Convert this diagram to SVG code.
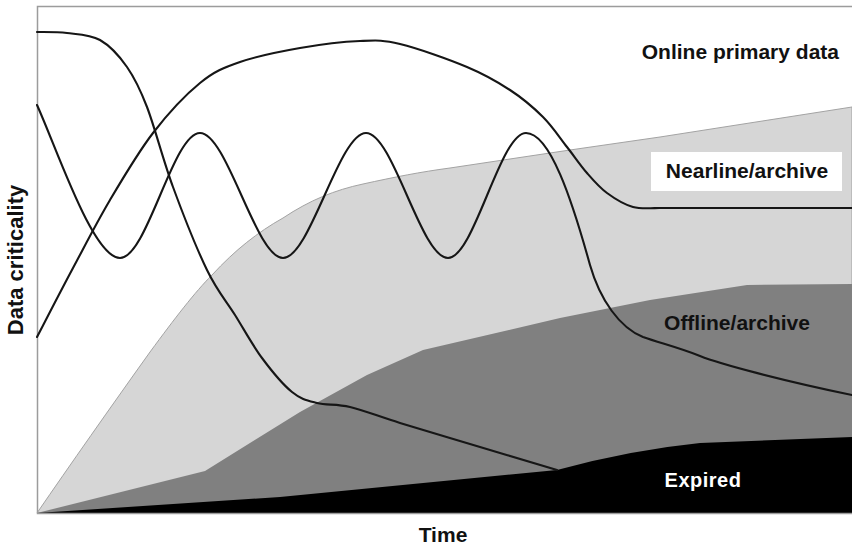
<svg xmlns="http://www.w3.org/2000/svg" width="852" height="546" viewBox="0 0 852 546">
  <style>
    .lbl { font-family: "Liberation Sans", Arial, sans-serif; font-weight: bold; font-size: 21px; fill: #111; }
    .curve { fill: none; stroke: #161616; stroke-width: 2.1; stroke-linejoin: round; stroke-linecap: round; }
  </style>
  <rect width="852" height="546" fill="#fff"/>

  <!-- stacked storage tiers -->
  <g id="tiers">
    <path id="nearline-area" d="M37,513 C70,465 110,408 150,352 C175,318 195,292 212,275 C235,250 258,232 283,218 C310,200 335,190 363,184 C395,177 420,172 450,168 L570,150 L660,137 L852,107 L852,513 Z" fill="#d6d6d6" stroke="#a3a3a3" stroke-width="1"/>
    <path id="offline-area" d="M37,513 L205,471 L300,412 L367,375 L423,350 L560,318 L650,300 L747,285 L852,284 L852,513 Z" fill="#808080"/>
    <path id="expired-area" d="M37,513 L280,497 L557,470 Q630,450 700,443 L852,437 L852,513 Z" fill="#000"/>
  </g>

  <!-- chart frame -->
  <path d="M852,6.5 H37.5 V513.5 H852" fill="none" stroke="#9c9c9c" stroke-width="1.5"/>

  <!-- criticality curves -->
  <g id="connectors">
    <path id="curve-declining" class="curve" d="M37,32 C42,32.2 56.5,31.7 67,33 C77.5,34.3 90,34.3 100,40 C110,45.7 119.2,55.8 127,67 C134.8,78.2 139.3,87 147,107 C154.7,127 163,159.8 173,187 C183,214.2 196.7,248.7 207,270 C217.3,291.3 225.8,300.3 235,315 C244.2,329.7 252.5,345.2 262,358 C271.5,370.8 282.8,384.5 292,392 C301.2,399.5 307.3,400.5 317,403 C326.7,405.5 336.2,403.7 350,407 C363.8,410.3 378.3,416.3 400,423 C421.7,429.7 453.8,439.2 480,447 C506.2,454.8 544.2,466.2 557,470"/>
    <path id="curve-online" class="curve" d="M37,337 C43,325.5 60.8,290.8 73,268 C85.2,245.2 96.7,222.5 110,200 C123.3,177.5 138,152.5 153,133 C168,113.5 185.5,94.8 200,83 C214.5,71.2 223.3,67.8 240,62 C256.7,56.2 280,51.5 300,48 C320,44.5 343.3,41.7 360,41 C376.7,40.3 382.2,39.7 400,44 C417.8,48.3 448.7,59.3 467,67 C485.3,74.7 497.3,81.7 510,90 C522.7,98.3 533.5,107.5 543,117 C552.5,126.5 559.7,137.7 567,147 C574.3,156.3 580.3,165.3 587,173 C593.7,180.7 599.3,187.3 607,193 C614.7,198.7 624.2,204.5 633,207 C641.8,209.5 655.5,207.8 660,208 L852,208"/>
    <path id="curve-oscillating" class="curve" d="M37,105 C57,149 93,258 120,258 C147,258 173,133 200,133 C227,133 256,258 283,258 C310,258 339,133 366,133 C393,133 421,258 448,258 C474,258 500,133 526,133 C550,133 572,200 590,265 C600,300 620,328 643,337 C660,343 680,348 700,356 C720,364 780,380 852,395"/>
  </g>

  <!-- tier labels -->
  <g id="label-online">
    <text class="lbl" x="839" y="59" text-anchor="end">Online primary data</text>
  </g>
  <g id="label-nearline">
    <rect x="651" y="152" width="191" height="39" fill="#fff"/>
    <text class="lbl" x="747" y="178" text-anchor="middle">Nearline/archive</text>
  </g>
  <g id="label-offline">
    <text class="lbl" x="737" y="330" text-anchor="middle">Offline/archive</text>
  </g>
  <g id="label-expired">
    <text class="lbl" x="703" y="487" text-anchor="middle" style="fill:#fff;font-size:20px;letter-spacing:0.5px">Expired</text>
  </g>

  <!-- axis titles -->
  <g id="axis-x">
    <text class="lbl" x="443" y="542" text-anchor="middle">Time</text>
  </g>
  <g id="axis-y">
    <text class="lbl" transform="translate(23,260) rotate(-90)" text-anchor="middle" style="font-size:22px">Data criticality</text>
  </g>
</svg>
